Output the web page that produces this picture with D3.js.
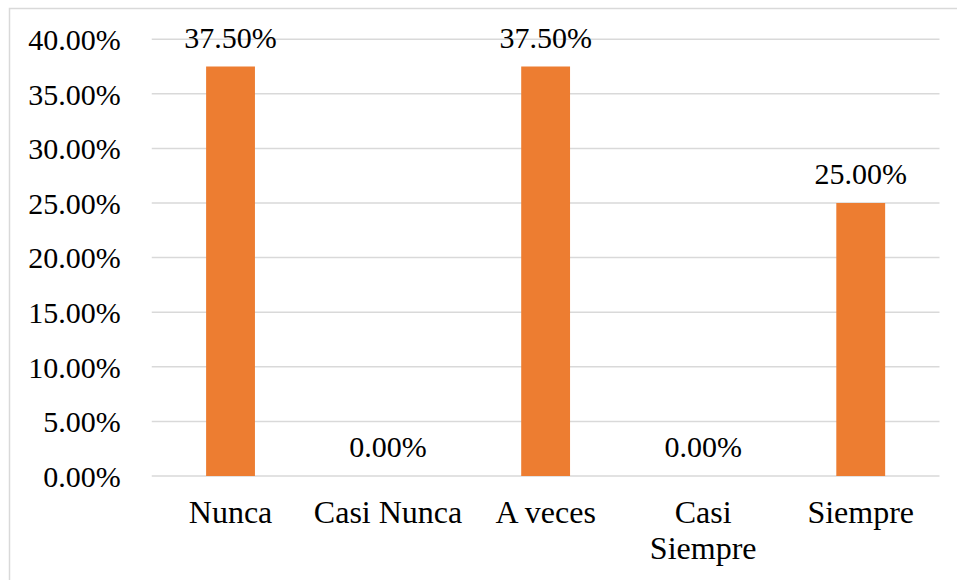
<!DOCTYPE html>
<html>
<head>
<meta charset="utf-8">
<script src="https://cdn.jsdelivr.net/npm/d3@7"></script>
<style>
  html, body { margin: 0; padding: 0; background: #ffffff; }
  svg { display: block; }
</style>
</head>
<body>
<svg id="chart" width="957" height="580"></svg>
<script>
// Response frequencies (share of respondents)
const categories = ["Nunca", "Casi Nunca", "A veces", "Casi Siempre", "Siempre"];
const values = [0.375, 0, 0.375, 0, 0.25];
const yTicks = [0, 0.05, 0.10, 0.15, 0.20, 0.25, 0.30, 0.35, 0.40];

const FONT = "'Liberation Serif', 'Times New Roman', serif";
const FS = 30;      // numbers
const FS_CAT = 32;  // category names

const W = 957, H = 580;
const margin = { top: 39.2, right: 17.5, bottom: 104, left: 151.75 };
const plotW = W - margin.left - margin.right;
const plotH = H - margin.top - margin.bottom;

const svg = d3.select("#chart");

// Outer chart frame
svg.append("rect")
  .attr("x", 9.5).attr("y", 8.5)
  .attr("width", 960).attr("height", 600)
  .attr("fill", "none").attr("stroke", "#d9d9d9").attr("stroke-width", 1.5);

const g = svg.append("g").attr("transform", `translate(${margin.left},${margin.top})`);

const x = d3.scaleBand().domain(categories).range([0, plotW]).paddingInner(0.69).paddingOuter(0.345);
const y = d3.scaleLinear().domain([0, 0.40]).range([plotH, 0]);

const fmt = d3.format(".2%");

// Horizontal gridlines
g.append("g")
  .selectAll("line")
  .data(yTicks)
  .join("line")
  .attr("x1", 0).attr("x2", plotW)
  .attr("y1", d => y(d)).attr("y2", d => y(d))
  .attr("stroke", "#d9d9d9").attr("stroke-width", 1.5);

// Y axis labels
const yAxis = d3.axisLeft(y).tickValues(yTicks).tickFormat(fmt).tickSize(0).tickPadding(31);
const ya = g.append("g").call(yAxis);
ya.select(".domain").remove();
ya.selectAll("text")
  .style("font-family", FONT)
  .style("font-size", FS + "px")
  .style("fill", "#000")
  .attr("dy", "0.34em");

// Bars
g.append("g")
  .selectAll("rect")
  .data(values)
  .join("rect")
  .attr("x", (d, i) => x(categories[i]))
  .attr("width", x.bandwidth())
  .attr("y", d => y(d))
  .attr("height", d => plotH - y(d))
  .attr("fill", "#ed7d31");

// Value labels
g.append("g")
  .selectAll("text")
  .data(values)
  .join("text")
  .attr("x", (d, i) => x(categories[i]) + x.bandwidth() / 2)
  .attr("y", d => y(d) - 19)
  .attr("text-anchor", "middle")
  .style("font-family", FONT)
  .style("font-size", FS + "px")
  .style("fill", "#000")
  .text(d => fmt(d));

// Category labels (wrapped where they exceed the band)
const step = x.step();
const cat = g.append("g").attr("transform", `translate(0,${plotH})`);
categories.forEach(c => {
  const cx = x(c) + x.bandwidth() / 2;
  const words = c.split(" ");
  const t = cat.append("text")
    .attr("x", cx).attr("y", 47)
    .attr("text-anchor", "middle")
    .style("font-family", FONT)
    .style("font-size", FS_CAT + "px")
    .style("fill", "#000");
  t.text(c);
  if (t.node().getComputedTextLength() > step - 4 && words.length > 1) {
    t.text(null);
    words.forEach((w, i) => {
      t.append("tspan").attr("x", cx).attr("dy", i === 0 ? 0 : 36).text(w);
    });
  }
});
</script>
</body>
</html>
